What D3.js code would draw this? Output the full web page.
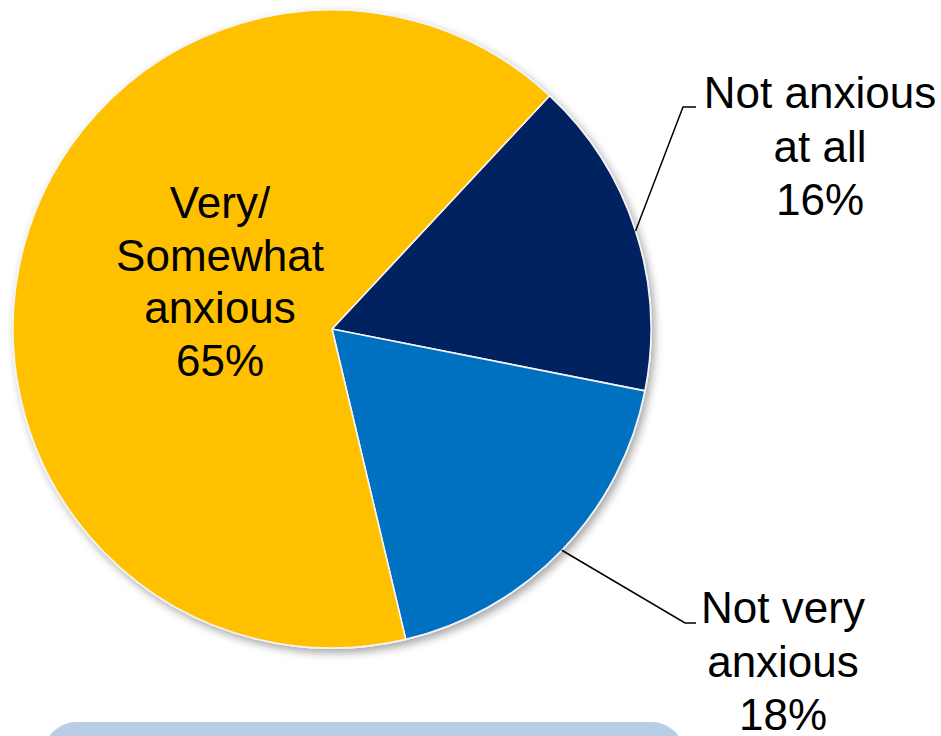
<!DOCTYPE html>
<html>
<head>
<meta charset="utf-8">
<script src="https://cdn.jsdelivr.net/npm/d3@7"></script>
<style>
  html, body { margin: 0; padding: 0; background: #fff; overflow: hidden; }
  svg text { font-family: "Liberation Sans", Arial, sans-serif; fill: #000; }
</style>
</head>
<body>
<svg id="chart" width="941" height="736"></svg>
<script>
// Survey shares (percent)
const categories = ["Not anxious at all", "Not very anxious", "Very/Somewhat anxious"];
const values = [16, 18, 65];
const colors = ["#002060", "#0070C0", "#FFC000"];
const labelLines = [
  ["Not anxious", "at all", "16%"],
  ["Not very", "anxious", "18%"],
  ["Very/", "Somewhat", "anxious", "65%"]
];

const svg = d3.select("#chart");
const cx = 332, cy = 329, r = 319;

// soft shadow under the pie
const defs = svg.append("defs");
const f = defs.append("filter").attr("id", "shadow")
  .attr("x", "-10%").attr("y", "-10%").attr("width", "125%").attr("height", "125%");
f.append("feDropShadow").attr("dx", 3).attr("dy", 4).attr("stdDeviation", 4)
  .attr("flood-color", "#000").attr("flood-opacity", 0.35);

// callout box at the bottom
svg.append("rect")
  .attr("x", 44).attr("y", 722).attr("width", 640).attr("height", 80)
  .attr("rx", 32).attr("ry", 32)
  .attr("fill", "#B9CDE5");

const startA = 43 * Math.PI / 180;
const pie = d3.pie().sort(null).value(d => d)
  .startAngle(startA).endAngle(startA + 2 * Math.PI);
const arcs = pie(values);
const arc = d3.arc().innerRadius(0).outerRadius(r);

const g = svg.append("g").attr("transform", `translate(${cx},${cy})`);
g.append("g").attr("filter", "url(#shadow)")
  .selectAll("path").data(arcs).join("path")
  .attr("d", arc)
  .attr("fill", (d, i) => colors[i])
  .attr("stroke", "#f4f4f4")
  .attr("stroke-width", 1.6)
  .attr("stroke-linejoin", "round");

// in-slice label for the large slice
const lineH = 52.5;
const big = g.append("text").attr("text-anchor", "middle").style("font-size", "44px");
labelLines[2].forEach((t, k) => {
  big.append("tspan").attr("x", 220 - cx).attr("y", 218 - cy + k * lineH).text(t);
});

// outside labels with leader lines from each slice's mid-angle on the rim
const outer = [
  { i: 0, tx: 820, ty: 108, hx: 683, hx2: 696, hy: 107 },
  { i: 1, tx: 783, ty: 623, hx: 685, hx2: 696, hy: 623 }
];
outer.forEach(o => {
  const a = arcs[o.i];
  const mid = (a.startAngle + a.endAngle) / 2;
  const px = cx + Math.sin(mid) * r, py = cy - Math.cos(mid) * r;
  svg.append("polyline")
    .attr("points", `${px},${py} ${o.hx},${o.hy} ${o.hx2},${o.hy}`)
    .attr("fill", "none").attr("stroke", "#000").attr("stroke-width", 1.5);
  const t = svg.append("text").attr("text-anchor", "middle").style("font-size", "44px");
  labelLines[o.i].forEach((s, k) => {
    t.append("tspan").attr("x", o.tx).attr("y", o.ty + k * 53.5).text(s);
  });
});
</script>
</body>
</html>
